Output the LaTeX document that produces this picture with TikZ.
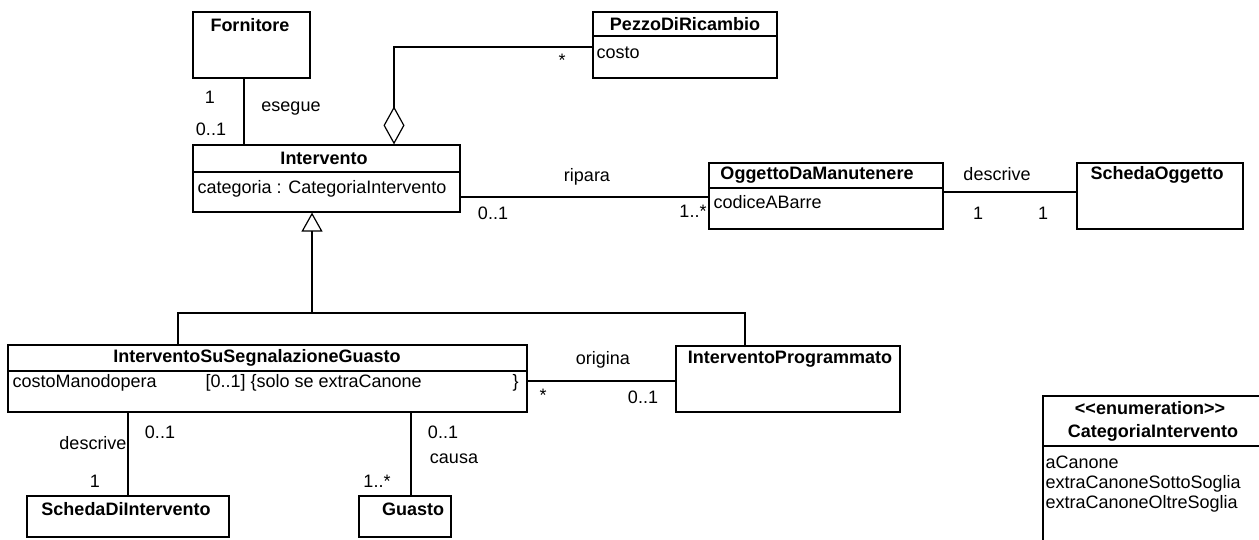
\documentclass[tikz,border=0pt]{standalone}
\usepackage{fontspec}
\setmainfont{Liberation Sans}
\usepackage{tikz}
\usetikzlibrary{arrows.meta, positioning, calc}

\begin{document}
\begin{tikzpicture}[x=1pt, y=-1pt, line width=1.2pt]
	\tikzstyle{classc}=[rectangle, draw=black, line width=1.2pt, inner sep=0pt, fill=none]
	\tikzstyle{lbl}=[inner sep=0pt, font=\fontsize{18}{21}\selectfont]
	\tikzstyle{ttl}=[inner sep=0pt, font=\fontsize{18}{21}\selectfont\bfseries]
	\tikzstyle{aggr}=[-{Diamond[open, length=38pt, width=21pt]}]
	\tikzstyle{gen}=[-{Triangle[open, length=19pt, width=21pt]}]
	
	\clip (0,0) rectangle (1259,540);
	
	% classes
	\node (forn) at (251.5,45) [classc, minimum width=117pt, minimum height=66pt] {};
	\node (pezzo) at (685,45) [classc, minimum width=184pt, minimum height=66pt] {};
	\node (interv) at (326.5,178.5) [classc, minimum width=267pt, minimum height=67pt] {};
	\node (oggetto) at (826,196) [classc, minimum width=234pt, minimum height=66pt] {};
	\node (schedaogg) at (1160,196) [classc, minimum width=166pt, minimum height=66pt] {};
	\node (isg) at (267.5,378.5) [classc, minimum width=519pt, minimum height=67pt] {};
	\node (iprog) at (788,379) [classc, minimum width=224pt, minimum height=66pt] {};
	\node (schedaint) at (128,516.5) [classc, minimum width=202pt, minimum height=41pt] {};
	\node (guasto) at (405,516.5) [classc, minimum width=92pt, minimum height=41pt] {};
	\node (catenum) at (1160,480) [classc, minimum width=234pt, minimum height=168pt] {};
	
	\draw (pezzo.west |- 0,36) -- (pezzo.east |- 0,36);
	\draw (interv.west |- 0,172) -- (interv.east |- 0,172);
	\draw (oggetto.west |- 0,188) -- (oggetto.east |- 0,188);
	\draw (isg.west |- 0,371) -- (isg.east |- 0,371);
	\draw (catenum.west |- 0,446) -- (catenum.east |- 0,446);
	
	\node (t_forn) at (250,25) [ttl] {Fornitore};
	\node (t_pezzo) at (685,24) [ttl] {PezzoDiRicambio};
	\node (a_pezzo) at (596,56) [lbl, anchor=mid west] {costo};
	\node (t_interv) at (324,158) [ttl] {Intervento};
	\node (a_interv) at (197,191) [lbl, anchor=mid west] {categoria : CategoriaIntervento};
	\node (t_oggetto) at (817,175) [ttl] {OggettoDaManutenere};
	\node (a_oggetto) at (713,206) [lbl, anchor=mid west] {codiceABarre};
	\node (t_schedaogg) at (1157,175) [ttl] {SchedaOggetto};
	\node (t_isg) at (257,358) [ttl] {InterventoSuSegnalazioneGuasto};
	\node (a_isg1) at (12,385) [lbl, anchor=mid west] {costoManodopera};
	\node (a_isg2) at (205,385) [lbl, anchor=mid west] {[0..1] \{solo se extraCanone};
	\node (a_isg3) at (512,385) [lbl, anchor=mid west] {\}};
	\node (t_iprog) at (790,359) [ttl] {InterventoProgrammato};
	\node (t_schedaint) at (126,509) [ttl] {SchedaDiIntervento};
	\node (t_guasto) at (413,509) [ttl] {Guasto};
	\node (t_enum1) at (1150,408) [ttl] {{<}{<}enumeration{>}{>}};
	\node (t_enum2) at (1153,433) [ttl] {CategoriaIntervento};
	\node (v_enum1) at (1045,466) [lbl, anchor=mid west] {aCanone};
	\node (v_enum2) at (1045,486) [lbl, anchor=mid west] {extraCanoneSottoSoglia};
	\node (v_enum3) at (1045,506) [lbl, anchor=mid west] {extraCanoneOltreSoglia};
	
	% associations
	\draw (forn.south -| 244,0) -- (interv.north -| 244,0);
	\node (m_forn1) at (210,97) [lbl] {1};
	\node (m_forn2) at (211,129) [lbl] {0..1};
	\node (n_esegue) at (291,109) [lbl] {esegue};
	
	\draw[aggr] ([yshift=-2pt]pezzo.west) -| (interv.north -| 394,0);
	\node (m_pezzo) at (562,60) [lbl] {*};
	
	\draw (interv.east |- 0,197) -- (oggetto.west |- 0,197);
	\node (n_ripara) at (587,177) [lbl] {ripara};
	\node (m_rip1) at (493,213) [lbl] {0..1};
	\node (m_rip2) at (693,211) [lbl] {1..*};
	
	\draw (oggetto.east |- 0,192) -- (schedaogg.west |- 0,192);
	\node (n_descr1) at (997,174) [lbl] {descrive};
	\node (m_descr1) at (978,213) [lbl] {1};
	\node (m_descr2) at (1043,213) [lbl] {1};
	
	\coordinate (gjoin) at (312,313);
	\draw[gen] (isg.north -| 178,0) |- (gjoin) -- (interv.south -| gjoin);
	\draw (gjoin) -| (iprog.north -| 745,0);
	
	\draw (isg.east |- 0,381) -- (iprog.west |- 0,381);
	\node (n_origina) at (603,360) [lbl] {origina};
	\node (m_orig1) at (543,395) [lbl] {*};
	\node (m_orig2) at (643,397) [lbl] {0..1};
	
	\draw (isg.south -| schedaint.north) -- (schedaint.north);
	\node (m_sch1) at (160,432) [lbl] {0..1};
	\node (n_descr2) at (93,443) [lbl] {descrive};
	\node (m_sch2) at (95,481) [lbl] {1};
	
	\draw (isg.south -| 411,0) -- (guasto.north -| 411,0);
	\node (m_gua1) at (443,432) [lbl] {0..1};
	\node (n_causa) at (454,459) [lbl] {causa};
	\node (m_gua2) at (377,481) [lbl] {1..*};
\end{tikzpicture}
\end{document}
